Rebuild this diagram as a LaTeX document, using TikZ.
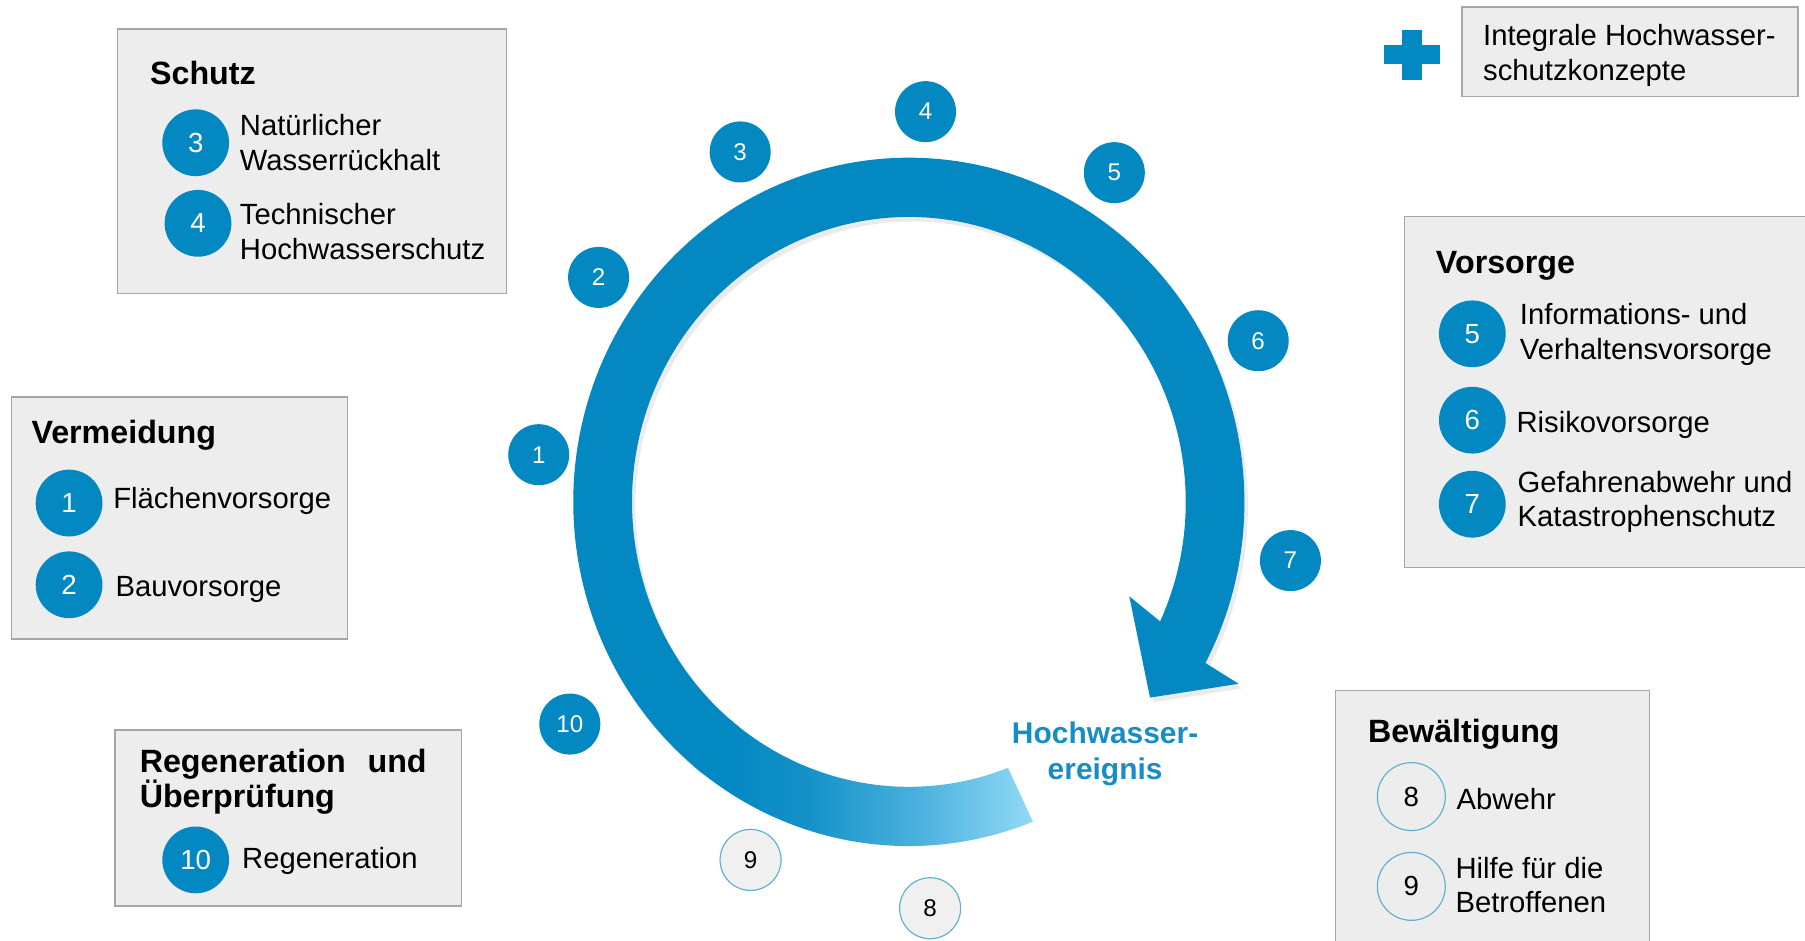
\documentclass[tikz,border=0pt]{standalone}
\usepackage{fontspec}
\setmainfont{Liberation Sans}
\usetikzlibrary{calc}
\definecolor{ringblue}{RGB}{3,136,194}
\definecolor{taillight}{RGB}{146,217,246}
\definecolor{hwblue}{RGB}{22,140,200}
\definecolor{boxfill}{RGB}{237,237,237}
\definecolor{boxborder}{RGB}{166,166,166}
\definecolor{outlineblue}{RGB}{95,176,206}
\definecolor{ringgray}{RGB}{240,240,240}
\colorlet{tailA}{ringblue!88!taillight}
\colorlet{tailB}{ringblue!50!taillight}
\pgfdeclarehorizontalshading{tailfade}{100bp}{color(0bp)=(ringblue); color(30bp)=(ringblue); color(42bp)=(tailA); color(58bp)=(tailB); color(75bp)=(taillight); color(100bp)=(taillight)}
\tikzset{
  box/.style={draw=boxborder, fill=boxfill, line width=0.7pt},
  bodytext/.style={anchor=west, inner sep=0pt, align=left, font=\fontsize{12.7}{15}\selectfont},
  headtext/.style={anchor=west, inner sep=0pt, align=left, font=\bfseries\fontsize{14}{15}\selectfont},
  boxnum/.style={circle, fill=ringblue, text=white, minimum size=29pt, inner sep=0pt, font=\fontsize{12}{12}\selectfont},
  boxnumo/.style={circle, draw=outlineblue, line width=0.5pt, text=black, minimum size=29.5pt, inner sep=0pt, font=\fontsize{12}{12}\selectfont},
  ringnum/.style={circle, fill=ringblue, text=white, minimum size=26.5pt, inner sep=0pt, font=\fontsize{10.5}{12}\selectfont},
  ringnumo/.style={circle, fill=ringgray, draw=outlineblue, line width=0.5pt, text=black, minimum size=26.5pt, inner sep=0pt, font=\fontsize{10.5}{12}\selectfont},
}
\begin{document}
\begin{tikzpicture}[x=0.5pt, y=-0.5pt]
\useasboundingbox (0,0) rectangle (1568,817);
\fill[white] (0,0) rectangle (1568,817);

% ---------- ring arrow ----------
\coordinate (C) at (789.5,436);
% soft shadow
\fill[black, opacity=0.08]
  ($(C)+(3,4)+(128:291.5 and 299)$) arc[start angle=128, end angle=387.9, x radius=291.5, y radius=299]
  -- (1079,598) -- (1002,610) -- (984,522) -- ($(C)+(3,4)+(384.8:240.5 and 247.5)$)
  arc[start angle=384.8, end angle=128, x radius=240.5, y radius=247.5] -- cycle;
% gradient tail
\path[shading=tailfade]
  ($(C)+(68.3:291.5 and 299)$) arc[start angle=68.3, end angle=130, x radius=291.5, y radius=299]
  -- ($(C)+(130:240.5 and 247.5)$) arc[start angle=130, end angle=69, x radius=240.5, y radius=247.5] -- cycle;
% main ring with arrowhead
\fill[ringblue]
  ($(C)+(128:291.5 and 299)$) arc[start angle=128, end angle=387.9, x radius=291.5, y radius=299]
  -- (1076,594) -- (999,606) -- (981,518) -- ($(C)+(384.8:240.5 and 247.5)$)
  arc[start angle=384.8, end angle=128, x radius=240.5, y radius=247.5] -- cycle;

\node[align=center, inner sep=0pt, text=hwblue, font=\bfseries\fontsize{13}{15.5}\selectfont] (hw) at (960,655) {Hochwasser-\\ereignis};

% ring numbers
\node[ringnum] (r1) at (468,395) {1};
\node[ringnum] (r2) at (520,241) {2};
\node[ringnum] (r3) at (643,132) {3};
\node[ringnum] (r4) at (804,97) {4};
\node[ringnum] (r5) at (968,150) {5};
\node[ringnum] (r6) at (1093,296) {6};
\node[ringnum] (r7) at (1121,487) {7};
\node[ringnum] (r10) at (495,629) {10};
\node[ringnumo] (r9) at (652,747) {9};
\node[ringnumo] (r8) at (808,789) {8};

% ---------- plus + integrale ----------
\fill[ringblue] (1202,39) rectangle (1251,56);
\fill[ringblue] (1217.5,26) rectangle (1235,69.5);
\draw[box] (1270,6) rectangle (1562,84);
\node[bodytext] (integ) at (1288,48) {Integrale Hochwasser-\\schutzkonzepte};

% ---------- Schutz ----------
\draw[box] (102,25) rectangle (440,255);
\node[headtext] (hs) at (130,63) {Schutz};
\node[boxnum] (b3) at (170,124) {3};
\node[bodytext] (t3) at (208,124) {Natürlicher\\Wasserrückhalt};
\node[boxnum] (b4) at (172,194) {4};
\node[bodytext] (t4) at (208,201) {Technischer\\Hochwasserschutz};

% ---------- Vermeidung ----------
\draw[box] (10,345) rectangle (302,555);
\node[headtext] (hv) at (27,378) {Vermeidung};
\node[boxnum] (b1) at (60,437) {1};
\node[bodytext] (t1) at (98,435) {Flächenvorsorge};
\node[boxnum] (b2) at (60,508) {2};
\node[bodytext] (t2) at (100,512) {Bauvorsorge};

% ---------- Regeneration ----------
\draw[box] (100,634) rectangle (401,787);
\node[headtext] (hr) at (121,679) {Regeneration\hspace{9.5pt}und\\Überprüfung};
\node[boxnum] (b10) at (170,747) {10};
\node[bodytext] (t10) at (210,748) {Regeneration};

% ---------- Vorsorge ----------
\draw[box] (1220,188) rectangle (1580,493);
\node[headtext] (hvo) at (1247,231) {Vorsorge};
\node[boxnum] (b5) at (1279,290) {5};
\node[bodytext] (t5) at (1320,290.5) {Informations- und\\Verhaltensvorsorge};
\node[boxnum] (b6) at (1279,365) {6};
\node[bodytext] (t6) at (1317,369) {Risikovorsorge};
\node[boxnum] (b7) at (1279,438) {7};
\node[bodytext] (t7) at (1318,436) {Gefahrenabwehr und\\Katastrophenschutz};

% ---------- Bewaeltigung ----------
\draw[box] (1160,600) rectangle (1433,830);
\node[headtext] (hb) at (1188,638) {Bewältigung};
\node[boxnumo] (b8) at (1226,692) {8};
\node[bodytext] (t8) at (1265,694) {Abwehr};
\node[boxnumo] (b9) at (1226,770) {9};
\node[bodytext] (t9) at (1264,769) {Hilfe für die\\Betroffenen};
\end{tikzpicture}
\end{document}
